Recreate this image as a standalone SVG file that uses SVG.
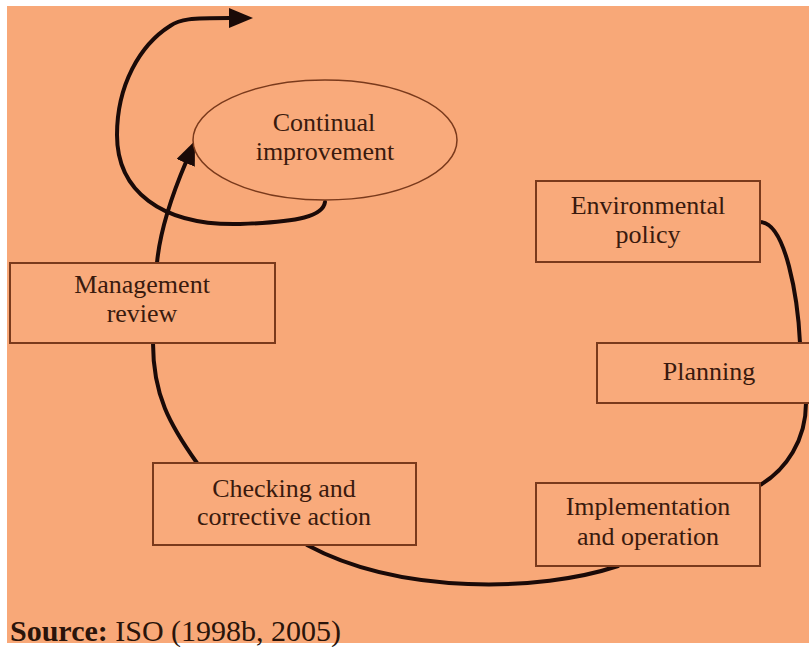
<svg xmlns="http://www.w3.org/2000/svg" width="809" height="647" viewBox="0 0 809 647">
<defs>
<style>
.box{fill:#F9AA7B;stroke:#7A3A1C;stroke-width:2}
.lbl{font-family:"Liberation Serif","Times New Roman",serif;font-size:26px;fill:#3A1A0E;text-anchor:middle}
.con{fill:none;stroke:#1A0A08;stroke-width:4;stroke-linecap:round}
</style>
<marker id="ah" markerUnits="userSpaceOnUse" markerWidth="26" markerHeight="22" refX="1" refY="10" orient="auto">
<path d="M0,0 L24,10 L0,20 Z" fill="#1A0A08"/>
</marker>
</defs>
<rect x="0" y="0" width="809" height="647" fill="#FFFFFF"/>
<rect x="7" y="6" width="802" height="637" fill="#F8A878"/>

<g id="connectors">
<path class="con" d="M760,222 C786,222 798,300 800,343"/>
<path class="con" d="M806,403 C806,440 786,470 760,485"/>
<path class="con" d="M618,566 C540,592 400,595 307,545"/>
<path class="con" d="M197,463 C170,425 153,395 153,343"/>
<path class="con" d="M157,263 C160,230 172,195 186,162" marker-end="url(#ah)"/>
<path class="con" d="M325,202 C323,216 300,222 240,224 C160,226 117,190 117,135 C117,85 140,45 170,26 C180,19 190,18 230,18" marker-end="url(#ah)"/>
</g>

<g id="continual-improvement">
<ellipse cx="325" cy="140" rx="132" ry="60" fill="#F9AA7B" stroke="#7A3A1C" stroke-width="1.5"/>
<text class="lbl" x="324" y="131">Continual</text>
<text class="lbl" x="325" y="160">improvement</text>
</g>

<g id="environmental-policy">
<rect class="box" x="536" y="181" width="224" height="81"/>
<text class="lbl" x="648" y="214">Environmental</text>
<text class="lbl" x="648" y="243">policy</text>
</g>

<g id="planning">
<rect class="box" x="597" y="343" width="220" height="60"/>
<text class="lbl" x="709" y="380">Planning</text>
</g>

<g id="implementation">
<rect class="box" x="536" y="483" width="224" height="83"/>
<text class="lbl" x="648" y="515">Implementation</text>
<text class="lbl" x="648" y="545">and operation</text>
</g>

<g id="checking">
<rect class="box" x="153" y="463" width="263" height="82"/>
<text class="lbl" x="284" y="497">Checking and</text>
<text class="lbl" x="284" y="525">corrective action</text>
</g>

<g id="management-review">
<rect class="box" x="10" y="263" width="265" height="80"/>
<text class="lbl" x="142" y="293">Management</text>
<text class="lbl" x="142" y="322">review</text>
</g>

<text x="10" y="641" font-family="'Liberation Serif','Times New Roman',serif" font-size="30" fill="#2A140A"><tspan font-weight="bold">Source:</tspan> ISO (1998b, 2005)</text>
</svg>
